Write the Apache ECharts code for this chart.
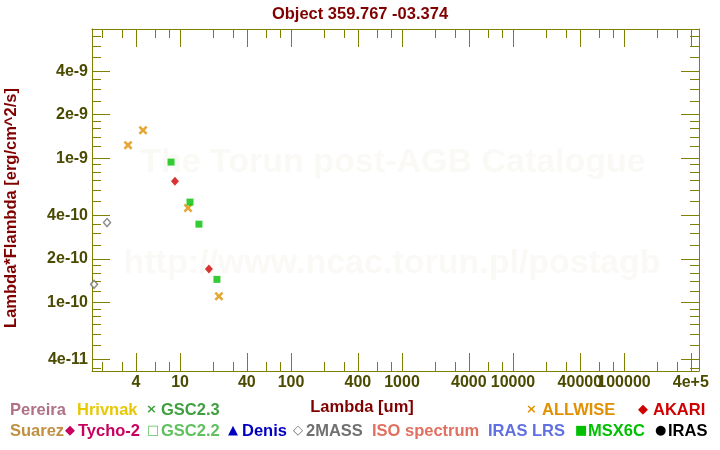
<!DOCTYPE html>
<html>
<head>
<meta charset="utf-8">
<script src="https://cdn.jsdelivr.net/npm/echarts@6/dist/echarts.min.js"></script>
<style>html,body{margin:0;padding:0;background:#fff}#c{width:720px;height:450px}</style>
</head>
<body>
<div id="c"></div>
<script>
// ---- data ----
const allwiseLambda = [3.40, 4.64, 11.8, 22.4];
const allwiseFlux   = [1.23e-9, 1.56e-9, 4.50e-10, 1.10e-10];
const msxLambda = [8.3, 12.3, 14.8, 21.5];
const msxFlux   = [9.38e-10, 4.95e-10, 3.48e-10, 1.44e-10];
const akariLambda = [9.0, 18.2];
const akariFlux   = [6.92e-10, 1.70e-10];
const twomassLambda = [1.68, 2.20];
const twomassFlux   = [1.33e-10, 3.57e-10];

const xMajor = [4,10,40,100,400,1000,4000,10000,40000,100000,400000];
const xMajorLabels = ['4','10','40','100','400','1000','4000','10000','40000','100000','4e+5'];
const xMinor = [2,3,6,8,20,30,60,80,200,300,600,800,2000,3000,6000,8000,20000,30000,60000,80000,200000,300000];
const yMajor = [4e-11,1e-10,2e-10,4e-10,1e-9,2e-9,4e-9];
const yMajorLabels = ['4e-11','1e-10','2e-10','4e-10','1e-9','2e-9','4e-9'];
const yMinor = [3.5e-11,5e-11,6e-11,7e-11,8e-11,9e-11,1.2e-10,1.4e-10,1.6e-10,1.8e-10,2.5e-10,3e-10,3.5e-10,5e-10,6e-10,7e-10,8e-10,9e-10,1.2e-9,1.4e-9,1.6e-9,1.8e-9,2.5e-9,3e-9,3.5e-9,5e-9,6e-9,7e-9];

const xRange = [1.61, 4.74e5];
const yRange = [3.33e-11, 7.87e-9];

const legendRow1 = [
  {sym:'', text:'Pereira', color:'#b07088', x:10},
  {sym:'', text:'Hrivnak', color:'#e8c800', x:77},
  {sym:'×', text:'GSC2.3', color:'#40a040', x:146, tx:161},
  {sym:'×', text:'ALLWISE', color:'#e09000', x:526, tx:542},
  {sym:'◆', text:'AKARI', color:'#d00000', x:638, tx:653}
];
const legendRow2 = [
  {sym:'', text:'Suarez', color:'#c09040', x:10},
  {sym:'◆', text:'Tycho-2', color:'#c80060', x:65, tx:78},
  {sym:'□', text:'GSC2.2', color:'#60c060', x:147, tx:161},
  {sym:'▲', text:'Denis', color:'#0000c0', x:228, tx:242},
  {sym:'◇', text:'2MASS', color:'#707070', x:293, tx:306},
  {sym:'', text:'ISO spectrum', color:'#e07060', x:372},
  {sym:'', text:'IRAS LRS', color:'#6070e0', x:488},
  {sym:'■', text:'MSX6C', color:'#00c000', x:575, tx:588},
  {sym:'●', text:'IRAS', color:'#000000', x:655, tx:668}
];

// ---- helpers ----
function lookup(vals, labels, v) {
  for (let i = 0; i < vals.length; i++) {
    if (Math.abs(vals[i] - v) <= Math.abs(vals[i]) * 1e-6) return labels[i];
  }
  return '';
}
const OLIVE = '#808000';
const LABEL = '#4a4a00';
const FONT = 'Liberation Sans, Arial, sans-serif';

function mkAxis(kind, position, vals, len, withLine, withLabels) {
  const isX = kind === 'x';
  const range = isX ? xRange : yRange;
  return {
    type: 'log', logBase: 10, position: position,
    min: range[0], max: range[1],
    axisLine: { show: withLine, onZero: false, lineStyle: { color: OLIVE, width: 1 } },
    axisTick: { show: true, inside: true, length: len, customValues: vals, lineStyle: { color: OLIVE, width: 1 } },
    axisLabel: withLabels ? {
      show: true, customValues: vals, margin: isX ? 4 : 4,
      color: LABEL, fontSize: 16, fontWeight: 'bold', fontFamily: FONT,
      formatter: function (v) { return isX ? lookup(xMajor, xMajorLabels, v) : lookup(yMajor, yMajorLabels, v); }
    } : { show: false },
    splitLine: { show: false },
    minorTick: { show: false },
    minorSplitLine: { show: false }
  };
}

const crossPath = 'path://M0,2L2,0L5,3L8,0L10,2L7,5L10,8L8,10L5,7L2,10L0,8L3,5Z';

const graphics = [
  { type:'text', x:393, y:163, z:-10, silent:true, style:{ text:'The Torun post-AGB Catalogue', fill:'#faf9f6', font:'bold 34px ' + FONT, align:'center', verticalAlign:'middle' } },
  { type:'text', x:392, y:264, z:-10, silent:true, style:{ text:'http://www.ncac.torun.pl/postagb', fill:'#faf9f6', font:'bold 34px ' + FONT, align:'center', verticalAlign:'middle' } },
  { type:'text', x:362, y:407, style:{ text:'Lambda [um]', fill:'#800000', font:'bold 16.5px ' + FONT, align:'center', verticalAlign:'middle' } },
  { type:'text', x:11, y:208, rotation: Math.PI/2, style:{ text:'Lambda*Flambda [erg/cm^2/s]', fill:'#800000', font:'bold 16.5px ' + FONT, align:'center', verticalAlign:'middle' } }
];
function addLegend(row, y) {
  row.forEach(function (e) {
    if (e.sym) {
      graphics.push({ type:'text', x:e.x, y:y, style:{ text:e.sym, fill:e.color, font:'bold 13px DejaVu Sans, sans-serif', align:'left', verticalAlign:'middle' } });
      graphics.push({ type:'text', x:e.tx, y:y, style:{ text:e.text, fill:e.color, font:'bold 16.5px ' + FONT, align:'left', verticalAlign:'middle' } });
    } else {
      graphics.push({ type:'text', x:e.x, y:y, style:{ text:e.text, fill:e.color, font:'bold 16.5px ' + FONT, align:'left', verticalAlign:'middle' } });
    }
  });
}
addLegend(legendRow1, 410);
addLegend(legendRow2, 431);

function zip(a, b) { return a.map(function (v, i) { return [v, b[i]]; }); }

const chart = echarts.init(document.getElementById('c'), null, { renderer: 'canvas' });
chart.setOption({
  backgroundColor: '#ffffff',
  animation: false,
  title: { text: 'Object 359.767 -03.374', left: 'center', top: 1,
    textStyle: { color: '#800000', fontSize: 16.5, fontWeight: 'bold', fontFamily: FONT } },
  grid: { left: 92, right: 21, top: 29, bottom: 79, containLabel: false },
  xAxis: [
    mkAxis('x', 'bottom', xMajor, 18, true, true),
    mkAxis('x', 'bottom', xMinor, 9, false, false),
    mkAxis('x', 'top', xMajor, 18, true, false),
    mkAxis('x', 'top', xMinor, 9, false, false)
  ],
  yAxis: [
    mkAxis('y', 'left', yMajor, 18, true, true),
    mkAxis('y', 'left', yMinor, 9, false, false),
    mkAxis('y', 'right', yMajor, 18, true, false),
    mkAxis('y', 'right', yMinor, 9, false, false)
  ],
  graphic: graphics,
  series: [
    { name:'2MASS', type:'scatter', xAxisIndex:0, yAxisIndex:0, data: zip(twomassLambda, twomassFlux),
      symbol:'diamond', symbolSize:[7,8], itemStyle:{ color:'#ffffff', borderColor:'#707070', borderWidth:1.5 } },
    { name:'ALLWISE', type:'scatter', xAxisIndex:0, yAxisIndex:0, data: zip(allwiseLambda, allwiseFlux),
      symbol: crossPath, symbolSize:9, itemStyle:{ color:'#e09000' } },
    { name:'MSX6C', type:'scatter', xAxisIndex:0, yAxisIndex:0, data: zip(msxLambda, msxFlux),
      symbol:'rect', symbolSize:7, itemStyle:{ color:'#00c000' } },
    { name:'AKARI', type:'scatter', xAxisIndex:0, yAxisIndex:0, data: zip(akariLambda, akariFlux),
      symbol:'diamond', symbolSize:[8,9], itemStyle:{ color:'#d00000' } }
  ]
});
</script>
</body>
</html>
